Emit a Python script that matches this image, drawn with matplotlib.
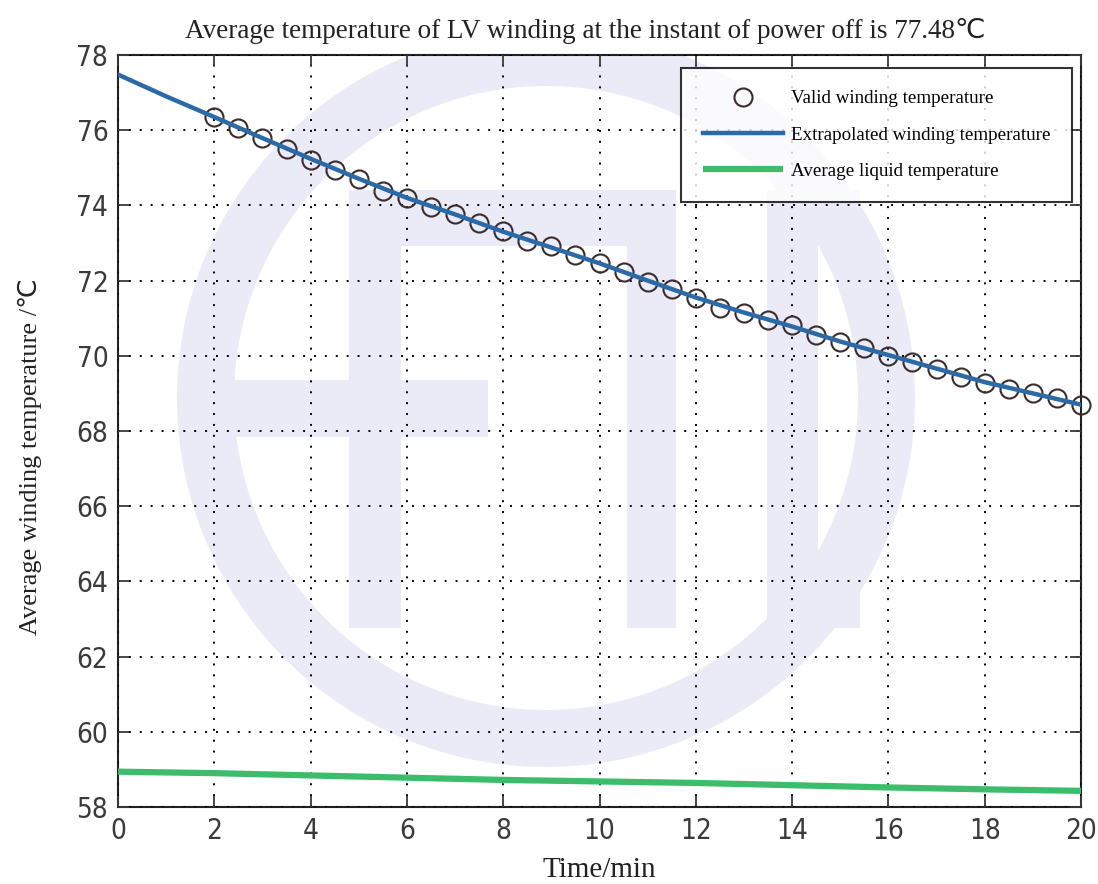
import numpy as np
import matplotlib
matplotlib.use("Agg")
import matplotlib.pyplot as plt
from matplotlib.path import Path
from matplotlib.patches import PathPatch
from matplotlib.transforms import Affine2D
from matplotlib import font_manager
from matplotlib.font_manager import FontProperties

# ---- data -------------------------------------------------------------
valid_time = [2.0, 2.5, 3.0, 3.5, 4.0, 4.5, 5.0, 5.5, 6.0, 6.5, 7.0, 7.5,
              8.0, 8.5, 9.0, 9.5, 10.0, 10.5, 11.0, 11.5, 12.0, 12.5, 13.0,
              13.5, 14.0, 14.5, 15.0, 15.5, 16.0, 16.5, 17.0, 17.5, 18.0,
              18.5, 19.0, 19.5, 20.0]
valid_temp = [76.34, 76.07, 75.78, 75.49, 75.22, 74.93, 74.71, 74.39, 74.20,
              73.97, 73.77, 73.54, 73.31, 73.06, 72.91, 72.69, 72.47, 72.24,
              71.97, 71.78, 71.53, 71.28, 71.13, 70.95, 70.82, 70.56, 70.37,
              70.20, 70.00, 69.84, 69.65, 69.44, 69.27, 69.13, 69.00, 68.87,
              68.69]

fit_time = [0, 1, 2, 3, 4, 5, 6, 7, 8, 9, 10, 11, 12, 13, 14, 15, 16, 17,
            18, 19, 20]
fit_temp = [77.48, 76.90, 76.35, 75.79, 75.24, 74.71, 74.20, 73.76, 73.30,
            72.88, 72.46, 72.00, 71.55, 71.15, 70.78, 70.38, 70.02, 69.66,
            69.30, 69.00, 68.70]

liquid_time = [0, 2, 4, 6, 8, 10, 12, 14, 16, 18, 20]
liquid_temp = [58.94, 58.90, 58.84, 58.78, 58.72, 58.68, 58.64, 58.58,
               58.52, 58.47, 58.43]

power_off_temp = 77.48
x_ticks = [0, 2, 4, 6, 8, 10, 12, 14, 16, 18, 20]
y_ticks = [58, 60, 62, 64, 66, 68, 70, 72, 74, 76, 78]

# ---- fonts ------------------------------------------------------------
serif = "Liberation Serif"


def narrow_tick_font(size):
    """Pick a narrow sans face for the tick numbers if one is installed."""
    entries = font_manager.fontManager.ttflist
    prefs = [
        lambda f: f.name == "Liberation Sans Narrow" and f.weight in (400, "normal") and f.style == "normal",
        lambda f: f.name == "DejaVu Sans" and f.stretch in ("condensed", "semi-condensed")
        and f.weight in (400, "normal", "book") and f.style == "normal",
        lambda f: ("Condensed" in f.name or "Narrow" in f.name) and f.style == "normal"
        and f.weight in (300, 400, "normal", "light"),
    ]
    for test in prefs:
        for f in entries:
            if test(f):
                return FontProperties(fname=f.fname, size=size)
    return FontProperties(family="Roboto", weight="light", size=size)


tick_fp = narrow_tick_font(20)

W, H = 1098, 884
fig = plt.figure(figsize=(W / 100, H / 100), dpi=100)
ax = fig.add_axes([118 / W, 1 - 807 / H, (1081 - 118) / W, (807 - 55) / H])

# ---- background emblem (faint ring with letters) ----------------------
px = Affine2D().scale(1 / W, -1 / H).translate(0, 1) + fig.transFigure
wm_color = "#eaebf6"


def ring_path(cx, cy, r_out, r_in, n=240):
    th = np.linspace(0, 2 * np.pi, n)
    outer = np.column_stack([cx + r_out * np.cos(th), cy + r_out * np.sin(th)])
    inner = np.column_stack([cx + r_in * np.cos(th[::-1]), cy + r_in * np.sin(th[::-1])])
    verts = np.vstack([outer, inner])
    codes = ([Path.MOVETO] + [Path.LINETO] * (n - 1)) * 2
    return Path(verts, codes)


def rect_path(x0, y0, x1, y1):
    return Path([(x0, y0), (x1, y0), (x1, y1), (x0, y1), (x0, y0)],
                [Path.MOVETO, Path.LINETO, Path.LINETO, Path.LINETO, Path.CLOSEPOLY])


emblem = [ring_path(546, 398, 369, 312),
          rect_path(349, 190, 675, 246),   # top bar
          rect_path(349, 190, 401, 628),   # E stem
          rect_path(230, 380, 488, 437),   # E middle bar
          rect_path(627, 190, 676, 628),   # T stem
          rect_path(767, 190, 818, 628),   # D stem
          rect_path(767, 190, 860, 246),   # D top
          rect_path(767, 572, 860, 628)]   # D bottom
for p in emblem:
    patch = PathPatch(p, transform=px, facecolor=wm_color, edgecolor="none", zorder=0.5)
    ax.add_patch(patch)
    patch.set_clip_path(ax.patch)

# ---- series ----------------------------------------------------------
ax.plot(liquid_time, liquid_temp, color="#3dbd6c", lw=4.5, solid_capstyle="butt",
        zorder=3, label="Average liquid temperature")
ax.plot(valid_time, valid_temp, linestyle="none", marker="o", ms=13,
        mfc="none", mec="#3a2c2c", mew=1.5, zorder=4, clip_on=False,
        label="Valid winding temperature")
ax.plot(fit_time, fit_temp, color="#2b6aa6", lw=3.2, zorder=5,
        label="Extrapolated winding temperature")

# ---- axes ----------------------------------------------------------------
ax.set_xlim(0, 20)
ax.set_ylim(58, 78)
ax.set_xticks(x_ticks)
ax.set_yticks(y_ticks)
ax.grid(True, color="black", linestyle=(0, (1, 4.6)), lw=1.4, zorder=1)
ax.set_axisbelow(False)
ax.tick_params(direction="in", top=True, right=True, length=8, width=1.3,
               colors="#3a3a3a", pad=7)
for lbl in ax.get_xticklabels() + ax.get_yticklabels():
    lbl.set_fontproperties(tick_fp)
for s in ax.spines.values():
    s.set_linewidth(1.5)
    s.set_color("#222222")

ax.set_title(f"Average temperature of LV winding at the instant of power off is {power_off_temp:.2f}\u2103",
             fontfamily=[serif, "DejaVu Sans"], fontsize=19.5, pad=12, color="#222222",
             x=0.485)
ax.set_xlabel("Time/min", fontfamily=serif, fontsize=21, color="#222222", labelpad=9)
ax.set_ylabel("Average winding temperature /\u2103", fontfamily=[serif, "DejaVu Sans"],
              fontsize=19, color="#222222")
ax.yaxis.set_label_coords((42 - 118) / 963, (807 - 457) / 752)

handles, labels = ax.get_legend_handles_labels()
order = [1, 2, 0]
leg = ax.legend([handles[i] for i in order], [labels[i] for i in order],
                loc="upper right",
                bbox_to_anchor=((1072 - 118) / 963, 1 - (68 - 55) / 752),
                prop={"family": serif, "size": 13.7}, frameon=True, fancybox=False,
                handlelength=4.2, handletextpad=0.4,
                labelspacing=1.0, borderpad=1.15, borderaxespad=0)
leg.get_frame().set_edgecolor("black")
leg.get_frame().set_linewidth(1.5)
leg.set_zorder(10)

fig.savefig("out.png", dpi=100)
